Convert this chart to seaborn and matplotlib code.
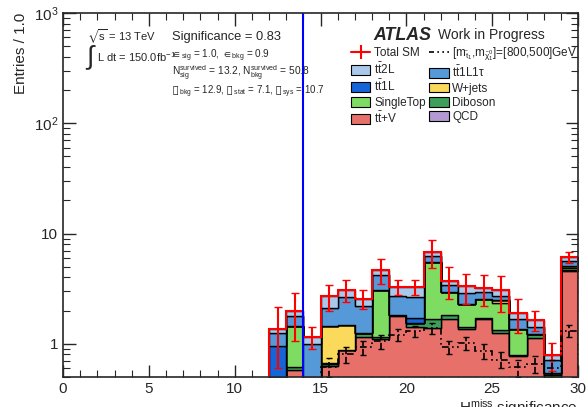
import numpy as np
import pandas as pd
import seaborn as sns
import matplotlib.pyplot as plt
from matplotlib.lines import Line2D
from matplotlib.patches import Patch

# bins of H_T^miss significance (width 1, only 12-30 filled)
edges = list(range(12, 31))
centers = [e + 0.5 for e in edges[:-1]]

ttV = [0.40, 0.58, 0.30, 0.63, 0.87, 1.16, 1.11, 1.78, 1.42, 1.39, 1.69, 1.36, 1.68, 1.25, 0.77, 1.13, 0.48, 4.60]
diboson = [0.05, 0.03, 0.02, 0.02, 0.0, 0.09, 0.05, 0.05, 0.12, 0.30, 0.14, 0.06, 0.05, 0.09, 0.02, 0.09, 0.04, 0.10]
singletop = [0.0, 0.83, 0.0, 0.02, 0.0, 0.0, 1.89, 0.0, 0.0, 3.84, 1.10, 0.88, 0.83, 1.00, 0.57, 0.0, 0.02, 0.20]
wjets = [0.0, 0.0, 0.0, 0.79, 0.62, 0.0, 0.0, 0.0, 0.0, 0.0, 0.0, 0.0, 0.0, 0.17, 0.0, 0.0, 0.0, 0.14]
qcd = [0.0] * 18
tt1L = [0.51, 0.0, 0.0, 0.0, 0.0, 0.0, 0.0, 0.0, 0.17, 0.0, 0.0, 0.0, 0.0, 0.0, 0.0, 0.0, 0.0, 0.0]
tt1L1tau = [0.30, 0.33, 0.68, 0.65, 1.17, 0.96, 1.19, 0.86, 0.92, 0.69, 0.46, 0.59, 0.39, 0.22, 0.33, 0.20, 0.175, 0.56]
tt2L = [0.11, 0.20, 0.15, 0.58, 0.44, 0.35, 0.47, 0.59, 0.65, 0.60, 0.35, 0.43, 0.26, 0.32, 0.21, 0.23, 0.075, 0.54]
total_err = [0.77, 0.92, 0.26, 0.7, 0.7, 0.5, 1.2, 0.5, 0.5, 2.0, 1.2, 1.0, 1.0, 1.1, 0.65, 0.35, 0.22, 0.7]

signal = [0.0, 0.0, 0.0, 0.62, 0.80, 0.93, 1.05, 1.20, 1.30, 1.38, 0.93, 1.02, 0.86, 0.72, 0.61, 0.66, 0.60, 1.32]
signal_err = [0.0, 0.0, 0.0, 0.12, 0.13, 0.14, 0.15, 0.15, 0.15, 0.16, 0.13, 0.14, 0.13, 0.12, 0.11, 0.12, 0.11, 0.16]

procs = {
    "tt2L": tt2L, "tt1L1tau": tt1L1tau, "tt1L": tt1L, "QCD": qcd,
    "W+jets": wjets, "SingleTop": singletop, "Diboson": diboson, "ttV": ttV,
}
colors = {
    "tt2L": "#a9c8ea", "tt1L1tau": "#5699d8", "tt1L": "#1565d8", "QCD": "#b49ad2",
    "W+jets": "#fbd95a", "SingleTop": "#7fdc62", "Diboson": "#3ca05a", "ttV": "#e8706a",
}
labels = {
    "tt2L": r"t$\bar{t}$2L", "tt1L1tau": r"t$\bar{t}$1L1$\tau$", "tt1L": r"t$\bar{t}$1L",
    "QCD": "QCD", "W+jets": "W+jets", "SingleTop": "SingleTop", "Diboson": "Diboson",
    "ttV": r"t$\bar{t}$+V",
}

rows = []
for p, vals in procs.items():
    for c, v in zip(centers, vals):
        rows.append({"x": c, "w": v, "proc": p})
df = pd.DataFrame(rows)

total = np.sum([np.array(v) for v in procs.values()], axis=0)

sns.set_style("ticks")
plt.rcParams["font.family"] = ["Liberation Sans", "DejaVu Sans"]
plt.rcParams["mathtext.fontset"] = "custom"
plt.rcParams["mathtext.rm"] = "Liberation Sans"
plt.rcParams["mathtext.it"] = "Liberation Sans:italic"
plt.rcParams["mathtext.bf"] = "Liberation Sans:bold"
plt.rcParams["mathtext.sf"] = "Liberation Sans"
plt.rcParams["mathtext.fallback"] = "stixsans"
plt.rcParams["mathtext.default"] = "rm"

fig = plt.figure(figsize=(5.88, 4.07), dpi=100)
ax = fig.add_axes([63 / 588, 30 / 407, 515 / 588, 364 / 407])

# first hue level ends up on top of the stack
sns.histplot(data=df, x="x", weights="w", hue="proc", hue_order=list(procs.keys()),
             palette=colors, multiple="stack", element="step", bins=edges,
             edgecolor="black", linewidth=1, alpha=1, legend=False, ax=ax)

ax.stairs(total, edges, color="red", lw=1.5)
ax.errorbar(centers, total, yerr=total_err, fmt="none", ecolor="red", elinewidth=1.5, capsize=3)

sig_ls = (0, (4, 2, 1, 2, 1, 2))
ax.stairs(signal, edges, color="black", lw=1.2, linestyle=sig_ls)
eb = ax.errorbar(centers, signal, yerr=signal_err, fmt="none", ecolor="black", elinewidth=1.2, capsize=2)
eb[2][0].set_linestyle("--")

ax.axvline(14, color="blue", lw=1.5)

ax.set_yscale("log")
ax.set_xlim(0, 30)
ax.set_ylim(0.5, 1000)
ax.set_yticks([1, 10, 100, 1000])
ax.set_yticklabels(["1", "10", "$10^2$", "$10^3$"])
ax.set_xticks(np.arange(0, 31, 5))
ax.set_xticks(np.arange(0, 31, 1), minor=True)
ax.tick_params(which="both", direction="in", top=True, right=True, labelsize=11)
ax.tick_params(which="major", length=9, width=1)
ax.tick_params(which="minor", length=5, width=0.8)
for s in ax.spines.values():
    s.set_linewidth(1.2)

ax.set_ylabel("Entries / 1.0", loc="top", fontsize=11)
ax.set_xlabel(r"$H_{T}^{miss}$ significance", loc="right", fontsize=11, labelpad=1)

def ftext(x, y, s, **kw):
    fig.text(x / 588, 1 - y / 407, s, va="center", **kw)

ftext(87, 37, r"$\sqrt{s}$ = 13 TeV", fontsize=8)
ftext(85, 58, r"$\int$", fontsize=19)
ftext(97, 57, "L dt = 150.0fb$^{-1}$", fontsize=8)
ftext(172, 37, "Significance = 0.83", fontsize=9.3)
ftext(171, 56, r"$\in_{sig}$ = 1.0, $\in_{bkg}$ = 0.9", fontsize=7.2)
ftext(172, 73, "N$_{sig}^{survived}$ = 13.2, N$_{bkg}^{survived}$ = 50.8", fontsize=7.3)
ftext(172, 92, "$▯_{\\ bkg}$ = 12.9, $▯_{\\ stat}$ = 7.1, $▯_{\\ sys}$ = 10.7", fontsize=7)

ftext(373, 35, "ATLAS", fontsize=12.8, fontweight="bold", fontstyle="italic")
ftext(438, 35, "Work in Progress", fontsize=10)

order_left = ["tt2L", "tt1L", "SingleTop", "ttV"]
order_right = ["tt1L1tau", "W+jets", "Diboson", "QCD"]
h_tot = Line2D([], [], color="red", lw=1.5, marker="|", markersize=10, markeredgewidth=1.5)
h_sig = Line2D([], [], color="black", lw=1.2, linestyle=(0, (3, 2, 1, 2, 1, 2)))
handles = [h_tot] + [Patch(facecolor=colors[p], edgecolor="black", lw=0.8) for p in order_left]
handles += [h_sig] + [Patch(facecolor=colors[p], edgecolor="black", lw=0.8) for p in order_right]
labs = ["Total SM"] + [labels[p] for p in order_left]
labs += [r"[m$_{\tilde{t}_1}$,m$_{\tilde{\chi}_1^0}$]=[800,500]GeV"] + [labels[p] for p in order_right]
ax.legend(handles, labs, ncol=2, frameon=False, fontsize=8.5, loc="upper left",
          bbox_to_anchor=(351 / 588, 1 - 45 / 407), bbox_transform=fig.transFigure,
          handlelength=1.65, handleheight=0.9, labelspacing=0.2, columnspacing=0.3,
          handletextpad=0.3, borderaxespad=0, borderpad=0)

fig.savefig("out.png", dpi=100)
